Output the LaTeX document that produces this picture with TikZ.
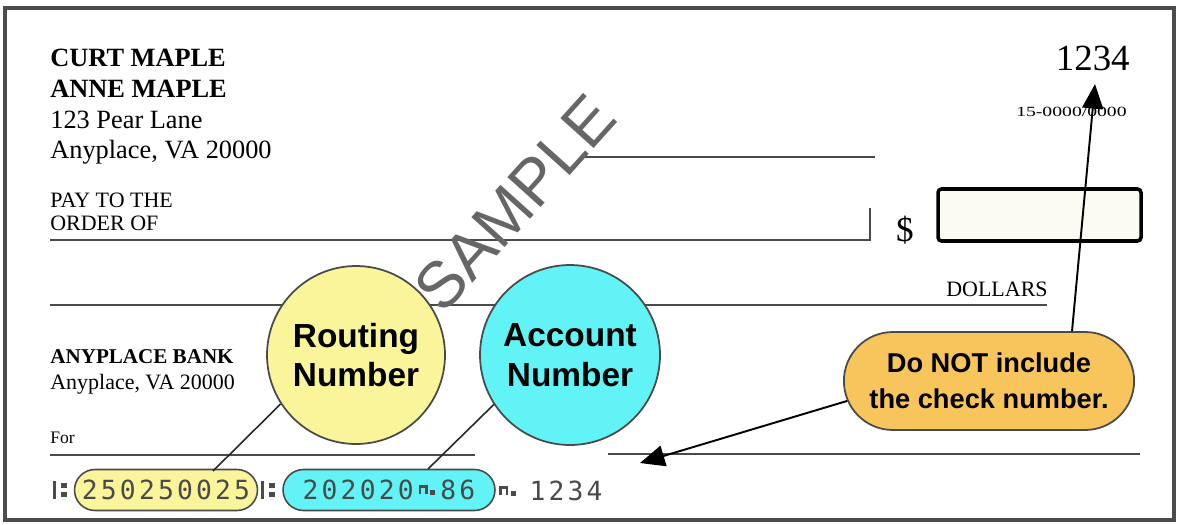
\documentclass[tikz,border=0pt]{standalone}
\usepackage{fontspec}
\setmainfont{Liberation Serif}
\newfontfamily\tagfont{Liberation Sans}
\newfontfamily\micrfont[LetterSpace=12]{DejaVu Sans Mono}
\usetikzlibrary{arrows.meta,shapes.misc}

\definecolor{routfill}{HTML}{FAF59B}
\definecolor{acctfill}{HTML}{62F3F6}
\definecolor{notefill}{HTML}{F8C45C}
\definecolor{boxfill}{HTML}{FBFBF1}
\definecolor{inkgray}{HTML}{4A4A4A}

% MICR control marks, drawn as small shapes
\newcommand\transitmark{\tikz[x=1pt,y=1pt,baseline=0pt]{%
  \fill (0,0) rectangle (1.8,10.5); \fill (4.6,1) rectangle (7.6,4); \fill (4.6,6.5) rectangle (7.6,9.5);}}
\newcommand\onusmark{\tikz[x=1pt,y=1pt,baseline=0pt]{%
  \draw[line width=1.4pt] (0.7,3) -- (0.7,7.5) -- (4.3,7.5) -- (4.3,3); \fill (6.4,2.5) rectangle (9.2,5.3);}}

\tikzset{
  bigtag/.style={circle, draw=inkgray, line width=1pt, align=center, inner sep=0pt,
    font=\tagfont\bfseries\fontsize{19}{22.5}\selectfont},
  micrpill/.style={rounded rectangle, draw=inkgray, line width=0.9pt, minimum height=0.82cm,
    inner sep=0pt, text=inkgray, font=\micrfont\fontsize{15}{15}\selectfont},
  micrmark/.style={text=inkgray, inner sep=0pt},
  checkline/.style={draw=inkgray, line width=1pt},
  printed/.style={anchor=base west, inner sep=0pt},
  leader/.style={draw=black!85, line width=0.9pt},
  pointer/.style={draw=black, line width=1.1pt, -{Triangle[length=14pt,width=12pt]}},
}

\begin{document}
\begin{tikzpicture}[x=0.02cm, y=-0.02cm]
    \useasboundingbox (0,0) rectangle (1179,524);
    % Drawing frame part
    \draw[line width=2.2pt, black!70] (5,8) rectangle (1174,520);
    % Drawing printed text
    \node[printed, font=\bfseries\fontsize{15}{15}\selectfont] (owner1) at (50,66) {CURT MAPLE};
    \node[printed, font=\bfseries\fontsize{15}{15}\selectfont] (owner2) at (50,97) {ANNE MAPLE};
    \node[printed, font=\fontsize{15}{15}\selectfont] (street) at (50,128) {123 Pear Lane};
    \node[printed, font=\fontsize{15}{15}\selectfont] (town) at (50,158) {Anyplace, VA 20000};
    \node[printed, font=\fontsize{12.5}{12.5}\selectfont] (payto) at (50,207) {PAY TO THE};
    \node[printed, font=\fontsize{12.5}{12.5}\selectfont] (order) at (50,230) {ORDER OF};
    \node[printed, font=\bfseries\fontsize{12}{12}\selectfont] (bank) at (50,363) {ANYPLACE BANK};
    \node[printed, font=\fontsize{12.5}{12.5}\selectfont] (banktown) at (50,389) {Anyplace, VA 20000};
    \node[printed, font=\fontsize{10}{10}\selectfont] (memo) at (50,443) {For};
    \node[printed, font=\fontsize{12.5}{12.5}\selectfont] (dollars) at (946,296) {DOLLARS};
    \node[anchor=base east, inner sep=0pt, font=\fontsize{21}{21}\selectfont] (chkno) at (1130,70) {1234};
    \node[anchor=base east, inner sep=0pt, font=\fontsize{8}{8}\selectfont] (fraction) at (1127,116) {\scalebox{1.4}[1]{15-0000/0000}};
    \node[anchor=base, inner sep=0pt, font=\fontsize{20}{20}\selectfont] (dollar) at (905,241) {\$};
    % Drawing lines and amount box
    \draw[checkline] (583,157) -- (875,157);
    \draw[checkline] (50,240) -- (870,240) -- (870,208);
    \draw[checkline] (50,305) -- (1047,305);
    \draw[checkline] (50,455) -- (475,455);
    \draw[checkline] (608,454) -- (1140,454);
    \draw[line width=2pt, fill=boxfill, rounded corners=2pt] (938,189) rectangle (1141,241);
    % Watermark
    \node[rotate=48, inner sep=0pt, text=black!60, font=\tagfont\fontsize{37}{37}\selectfont] (stamp) at (515,203) {SAMPLE};
    % MICR line
    \node[micrmark] (transA) at (60,490) {\transitmark};
    \node[micrpill, fill=routfill, minimum width=3.66cm] (rtnum) at (166,490) {250250025};
    \node[micrmark] (transB) at (268,490) {\transitmark};
    \node[micrpill, fill=acctfill, minimum width=4.24cm] (acnum) at (389,490) {202020\hspace{3pt}\onusmark\hspace{3pt}86};
    \node[anchor=west, inner sep=0pt, text=inkgray, font=\micrfont\fontsize{15}{15}\selectfont] (micrno) at (499,491) {\onusmark\hspace{8pt}1234};
    % Callouts
    \node[bigtag, fill=routfill, minimum size=3.56cm] (rout) at (356,355) {Routing\\Number};
    \node[bigtag, fill=acctfill, minimum size=3.6cm] (acct) at (570,355) {Account\\Number};
    \node[rounded rectangle, draw=inkgray, line width=1pt, fill=notefill, minimum width=6.04cm,
      minimum height=1.96cm, align=center, font=\tagfont\bfseries\fontsize{15.5}{20.5}\selectfont] (dnot) at (989,381)
      {Do NOT include\\the check number.};
    \coordinate (rtip) at (213,471);
    \coordinate (atip) at (428,469);
    \coordinate (chktop) at (1095,84);
    \coordinate (chkmicr) at (640,463);
    \draw[leader] (rout.213) -- (rtip);
    \draw[leader] (acct.213) -- (atip);
    \draw[pointer] (dnot.31) -- (chktop);
    \draw[pointer] (dnot.188) -- (chkmicr);
\end{tikzpicture}
\end{document}
